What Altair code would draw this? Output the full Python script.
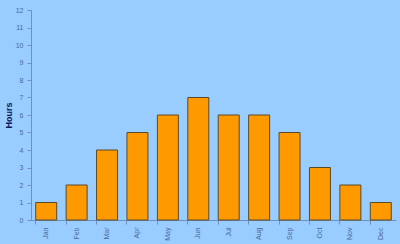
import altair as alt
import pandas as pd

months = ["Jan", "Feb", "Mar", "Apr", "May", "Jun", "Jul", "Aug", "Sep", "Oct", "Nov", "Dec"]
hours = [1, 2, 4, 5, 6, 7, 6, 6, 5, 3, 2, 1]

df = pd.DataFrame({"Month": months, "Hours": hours})

chart = alt.Chart(df).mark_bar(
    color="#FF9900", stroke="#5A4A2A", strokeWidth=1
).encode(
    x=alt.X("Month:N", sort=months, title=None,
            scale=alt.Scale(paddingInner=0.31, paddingOuter=0.155),
            axis=alt.Axis(labelAngle=-90, bandPosition=0, labelFontSize=7,
                          labelColor="#4A6A9A", labelFont="Liberation Sans",
                          domainColor="#6F8FBF", tickColor="#6F8FBF", tickSize=4,
                          labelPadding=3, grid=False)),
    y=alt.Y("Hours:Q", title="Hours",
            scale=alt.Scale(domain=[0, 12], nice=False),
            axis=alt.Axis(values=list(range(0, 13)), labelFontSize=7,
                          labelColor="#4A6A9A", labelFont="Liberation Sans",
                          domainColor="#6F8FBF", tickColor="#6F8FBF", tickSize=4,
                          labelPadding=4, grid=False,
                          titleFont="Liberation Sans", titleFontSize=9,
                          titleFontWeight="bold", titleColor="#0A1A5A",
                          titlePadding=2)),
).properties(
    width=365, height=210,
    background="#99CCFF",
    padding={"left": 31, "top": 10, "right": 4, "bottom": 24},
    autosize=alt.AutoSizeParams(type="none"),
).configure_view(stroke=None, fill="#99CCFF")

chart.save("out.html", embed_options={"renderer": "svg", "actions": False})
